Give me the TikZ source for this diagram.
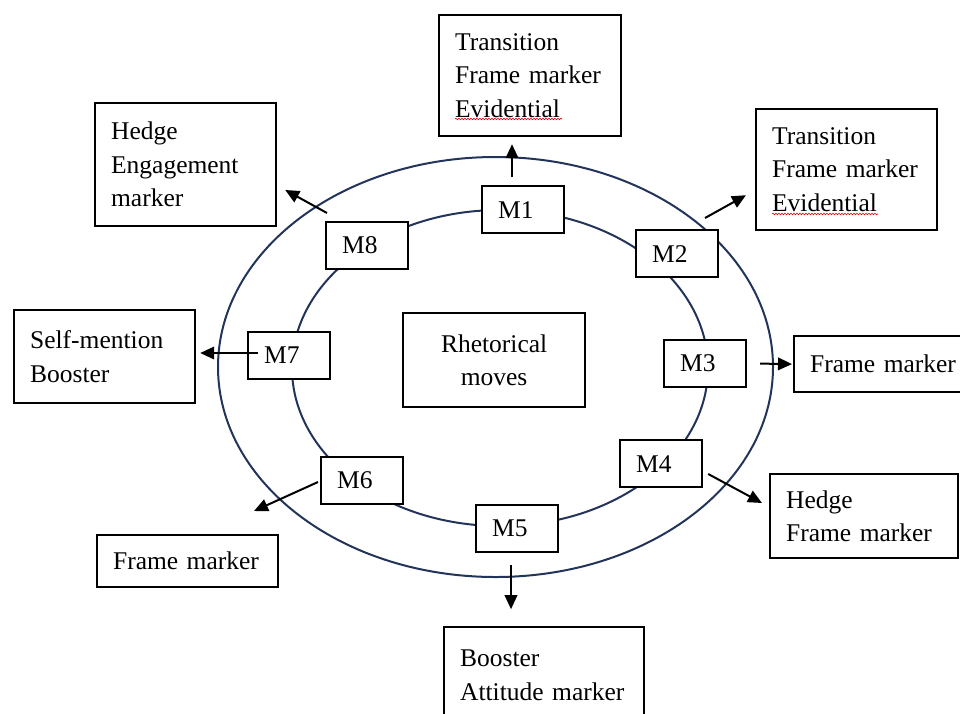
\documentclass[tikz,border=0pt]{standalone}
\usepackage{fontspec}
\setmainfont{Liberation Serif}
\usetikzlibrary{calc,arrows.meta,decorations.pathmorphing}
\definecolor{ringblue}{RGB}{35,52,90}
\tikzset{
  txtfont/.style={font={\fontsize{25.5}{33.5}\selectfont}},
  box/.style={draw=black, line width=2.2, fill=white, txtfont, anchor=north west,
              inner xsep=16, inner ysep=0, align=left},
  movebox/.style={box, text width=50, minimum height=47},
  ring/.style={draw=ringblue, line width=2},
  arr/.style={draw=black, line width=2, -{Triangle[length=14,width=12.5]}},
  squiggle/.style={draw=red!85!black, line width=0.6,
     decorate, decoration={snake, amplitude=0.8, segment length=3}}
}
\begin{document}
\begin{tikzpicture}[x=1pt,y=-1pt]
\useasboundingbox (0,0) rectangle (960,713);
\clip (0,0) rectangle (960,713);
% rings
\draw[ring] (495.5,367) ellipse [x radius=277.5, y radius=210];
\draw[ring] (500,368) ellipse [x radius=208, y radius=158];
% centre
\node[box, align=center, text width=150, minimum height=94] (rm) at (402,312) {Rhetorical\\moves};
% move boxes
\node[movebox] (m1) at (481,185) {M1};
\node[movebox] (m2) at (635,229) {M2};
\node[movebox] (m3) at (663,339) {M3};
\node[movebox] (m4) at (619,439) {M4};
\node[movebox] (m5) at (475,504) {M5};
\node[movebox] (m6) at (320,456) {M6};
\node[movebox] (m7) at (247,331) {M7};
\node[movebox] (m8) at (325,221) {M8};
% outer boxes
\node[box, text width=150, minimum height=121] (t1) at (438,14) {Transition\\Frame marker\\Evidential};
\node[box, text width=149, minimum height=121] (t2) at (755,108) {Transition\\Frame marker\\Evidential};
\node[box, text width=150, minimum height=56] (t3) at (793,335) {Frame marker};
\node[box, text width=156, minimum height=84] (t4) at (769,473) {Hedge\\Frame marker};
\node[box, text width=168, minimum height=96] (t5) at (443,626) {Booster\\Attitude marker};
\node[box, text width=149, minimum height=52] (t6) at (96,534) {Frame marker};
\node[box, text width=149, minimum height=93] (t7) at (13,309) {Self-mention\\Booster};
\node[box, text width=149, minimum height=123] (t8) at (94,102) {Hedge\\Engagement\\marker};
% spell-check underlines
\draw[squiggle] ($(t1.north west)+(17,105)$) -- ($(t1.north west)+(124,105)$);
\draw[squiggle] ($(t2.north west)+(17,106)$) -- ($(t2.north west)+(123,106)$);
% arrows
\draw[arr] ($(m1.north west)+(31,-8)$) -- ($(t1.south west)+(74,7)$);
\draw[arr] ($(m2.north west)+(70,-11)$) -- ($(t2.south west)+(-9,-36)$);
\draw[arr] ($(m3.east)+(13,0)$) -- ($(t3.west)+(-1,0)$);
\draw[arr] ($(m4.north east)+(5,35)$) -- ($(t4.north west)+(-7,30)$);
\draw[arr] ($(m5.south west)+(36,12)$) -- ($(m5.south west)+(36,56)$);
\draw[arr] ($(m6.north west)+(-2,26)$) -- ($(t6.north west)+(158,-23)$);
\draw[arr] ($(m7.north west)+(11,22)$) -- ($(t7.north east)+(4,44)$);
\draw[arr] ($(m8.north west)+(2,-8)$) -- ($(t8.north east)+(8,88)$);
\end{tikzpicture}
\end{document}
